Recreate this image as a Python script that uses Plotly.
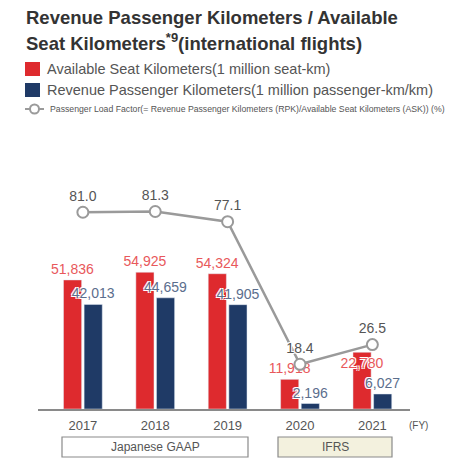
import plotly.graph_objects as go

years = ["2017", "2018", "2019", "2020", "2021"]
ask = [51836, 54925, 54324, 11918, 22780]
rpk = [42013, 44659, 41905, 2196, 6027]
load_factor = [81.0, 81.3, 77.1, 18.4, 26.5]

RED = "#DE2A2E"
NAVY = "#1F3A66"
RED_TXT = "#E8585B"
NAVY_TXT = "#5B6E8D"
GRAY = "#9A9A9A"
TXT = "#555555"
FONT = "Liberation Sans, Arial"

# page body has an 8px margin, so the figure is drawn 8px in from the window corner
O = 8
W, H = 463 - 2 * O, 464 - O
# plot area in window pixels: x 38..410, y 160..409
X0, X1, Y0, Y1 = 38, 410, 160, 409
L, R, T, B = X0 - O, W - (X1 - O), Y0 - O, H - (Y1 - O)


def px(x):
    return (x - X0) / (X1 - X0)


def py(y):
    return (Y1 - y) / (Y1 - Y0)


halo = "-1px -1px 0 #fff, 1px -1px 0 #fff, -1px 1px 0 #fff, 1px 1px 0 #fff"

fig = go.Figure()
fig.add_trace(go.Bar(
    x=years, y=ask, marker_color=RED, name="ASK",
    text=[f"{v:,}" for v in ask],
    textposition=["outside", "outside", "outside", "outside", "inside"],
    insidetextanchor="end",
    textangle=0,
    constraintext="none",
    textfont=dict(color=RED_TXT, size=14, family=FONT, shadow=halo),
    cliponaxis=False,
))
fig.add_trace(go.Bar(
    x=years, y=rpk, marker_color=NAVY, name="RPK",
    text=[f"{v:,}" for v in rpk],
    textposition="outside",
    textangle=0,
    constraintext="none",
    textfont=dict(color=NAVY_TXT, size=14, family=FONT, shadow=halo),
    cliponaxis=False,
))
fig.add_trace(go.Scatter(
    x=years, y=load_factor, yaxis="y2", name="Load factor",
    mode="lines+markers+text",
    line=dict(color=GRAY, width=2.5),
    marker=dict(size=11, color="white", line=dict(color=GRAY, width=2)),
    text=[f"{v:.1f}" for v in load_factor],
    textposition="top center",
    textfont=dict(color=TXT, size=14, family=FONT, shadow=halo),
    cliponaxis=False,
))

shapes = []
annotations = []

# title
annotations.append(dict(x=px(24), y=py(17), xref="paper", yref="paper", xanchor="left", yanchor="middle",
                        text="<b>Revenue Passenger Kilometers / Available</b>", showarrow=False,
                        font=dict(size=18.5, color="#333333", family=FONT)))
annotations.append(dict(x=px(24), y=py(42), xref="paper", yref="paper", xanchor="left", yanchor="middle",
                        text="<b>Seat Kilometers<sup>*9</sup>(international flights)</b>", showarrow=False,
                        font=dict(size=18.5, color="#333333", family=FONT)))

# legend
legend_rows = [
    (69, "box", RED, "Available Seat Kilometers(1 million seat-km)", 14.5),
    (90, "box", NAVY, "Revenue Passenger Kilometers(1 million passenger-km/km)", 14.5),
    (109, "line", GRAY, "Passenger Load Factor(= Revenue Passenger Kilometers (RPK)/Available Seat Kilometers (ASK)) (%)", 8.7),
]
for yc, kind, color, label, size in legend_rows:
    if kind == "box":
        shapes.append(dict(type="rect", xref="paper", yref="paper", x0=px(25), x1=px(40),
                           y0=py(yc - 7), y1=py(yc + 7), fillcolor=color, line_width=0))
        tx = 45
    else:
        shapes.append(dict(type="line", xref="paper", yref="paper", x0=px(25), x1=px(44),
                           y0=py(yc), y1=py(yc), line=dict(color=color, width=2)))
        shapes.append(dict(type="circle", xref="paper", yref="paper", x0=px(30), x1=px(39),
                           y0=py(yc - 4.5), y1=py(yc + 4.5), fillcolor="white", line=dict(color=color, width=2)))
        tx = 48
    annotations.append(dict(x=px(tx), y=py(yc), xref="paper", yref="paper", xanchor="left", yanchor="middle",
                            text=label, showarrow=False, font=dict(size=size, color=TXT, family=FONT)))

# FY
annotations.append(dict(x=px(418), y=py(425), xref="paper", yref="paper", xanchor="center", yanchor="middle",
                        text="(FY)", showarrow=False, font=dict(size=10, color=TXT, family=FONT)))

# accounting standard boxes
for x0, x1, fill, label in [(62, 248, "white", "Japanese GAAP"), (278, 392, "#F3F1DE", "IFRS")]:
    shapes.append(dict(type="rect", xref="paper", yref="paper", x0=px(x0), x1=px(x1),
                       y0=py(457), y1=py(437), fillcolor=fill, line=dict(color="#8A8A8A", width=1.2)))
    annotations.append(dict(x=px((x0 + x1) / 2), y=py(447), xref="paper", yref="paper",
                            xanchor="center", yanchor="middle", text=label, showarrow=False,
                            font=dict(size=12, color=TXT, family=FONT)))

fig.update_layout(
    width=W, height=H,
    margin=dict(l=L, r=R, t=T, b=B),
    paper_bgcolor="white", plot_bgcolor="white",
    showlegend=False,
    barmode="group", bargap=0.43, bargroupgap=0.12,
    xaxis=dict(type="category", range=[-0.62, 4.52], showgrid=False, showline=True,
               linecolor="#8A8A8A", linewidth=1.5, ticks="", ticklabelstandoff=4,
               tickfont=dict(size=13, color=TXT, family=FONT)),
    yaxis=dict(range=[0, 100000], visible=False, showgrid=False),
    yaxis2=dict(range=[0, 102.5], overlaying="y", visible=False, showgrid=False),
    shapes=shapes,
    annotations=annotations,
    font=dict(family=FONT),
)

fig.write_html("out.html")
